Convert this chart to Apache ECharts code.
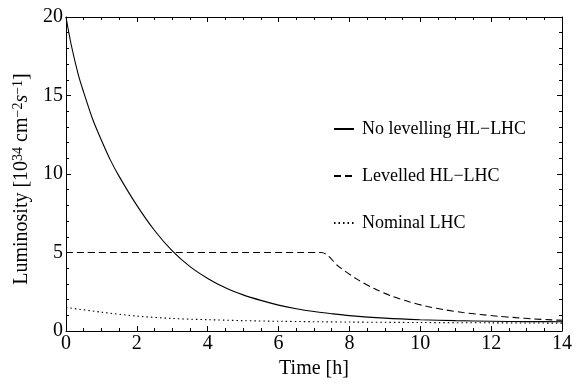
<!DOCTYPE html>
<html>
<head>
<meta charset="utf-8">
<script src="https://cdn.jsdelivr.net/npm/echarts@6/dist/echarts.min.js"></script>
<style>
  html, body { margin: 0; padding: 0; background: #fff; }
  #chart { width: 587px; height: 385px; }
</style>
</head>
<body>
<div id="chart"></div>
<script>
// values
const noLevTime = [0, 0.15, 0.35, 0.5, 0.75, 1, 1.25, 1.5, 2, 2.5, 3, 3.5, 4, 4.5, 5, 5.5, 6, 6.5, 7, 7.5, 8, 9, 10, 11, 12, 13, 14];
const noLevLumi = [20, 18.2, 16.3, 15.2, 13.5, 12.15, 10.9, 9.85, 8.0, 6.4, 5.1, 4.1, 3.35, 2.75, 2.3, 1.95, 1.65, 1.42, 1.24, 1.1, 0.98, 0.82, 0.72, 0.66, 0.62, 0.6, 0.59];

const levTime = [0, 7.2, 7.7, 8.2, 8.7, 9.2, 9.7, 10.2, 10.7, 11.2, 11.7, 12.2, 12.7, 13.2, 13.7, 14];
const levLumi = [5, 5, 4.1, 3.32, 2.7, 2.22, 1.85, 1.56, 1.35, 1.18, 1.05, 0.94, 0.85, 0.77, 0.71, 0.68];

const nomTime = [0, 1, 2, 3, 4, 5, 6, 8, 10, 12, 14];
const nomLumi = [1.5, 1.2, 0.95, 0.8, 0.72, 0.66, 0.62, 0.57, 0.54, 0.52, 0.5];

const seriesNames = ['No levelling HL\u2212LHC', 'Levelled HL\u2212LHC', 'Nominal LHC'];

const FONT = '"Liberation Serif", "DejaVu Serif", serif';
const pairs = (xs, ys) => xs.map((x, i) => [x, ys[i]]);

const axisLine = { onZero: false, lineStyle: { color: '#000', width: 1 } };
const axisTick = { inside: true, length: 5, lineStyle: { color: '#000' } };
const minorTick = (n) => ({ show: true, splitNumber: n, length: 3, lineStyle: { color: '#000' } });

const chart = echarts.init(document.getElementById('chart'), null, { renderer: 'canvas' });
chart.setOption({
  backgroundColor: '#fff',
  animation: false,
  grid: { left: 66, right: 25, top: 17, bottom: 54 },
  legend: {
    orient: 'vertical',
    left: 328, top: 115,
    itemWidth: 20, itemHeight: 10,
    itemGap: 29,
    itemStyle: { opacity: 0 },
    textStyle: { fontFamily: FONT, fontSize: 18, color: '#000', padding: [0, 0, 0, 3] },
    data: seriesNames,
  },
  xAxis: [{
    type: 'value', min: 0, max: 14, interval: 2,
    name: 'Time [h]', nameLocation: 'middle', nameGap: 28,
    nameTextStyle: { fontFamily: FONT, fontSize: 20, color: '#000' },
    axisLabel: { fontFamily: FONT, fontSize: 20, color: '#000', margin: 3 },
    axisLine, axisTick, minorTick: minorTick(4), splitLine: { show: false },
  }, {
    type: 'value', min: 0, max: 14, interval: 2, position: 'top',
    axisLabel: { show: false },
    axisLine, axisTick, minorTick: minorTick(4), splitLine: { show: false },
  }],
  yAxis: [{
    type: 'value', min: 0, max: 20, interval: 5,
    name: '{n|Luminosity [10}{s|34}{n| cm}{s|\u22122}{i|s}{s|\u22121}{n|]}',
    nameLocation: 'middle', nameGap: 24, nameRotate: 90,
    nameTextStyle: {
      fontFamily: FONT, fontSize: 20, color: '#000', padding: [0, 10, 0, 0],
      rich: {
        n: { fontFamily: FONT, fontSize: 20, color: '#000' },
        i: { fontFamily: FONT, fontSize: 20, color: '#000', fontStyle: 'italic' },
        s: { fontFamily: FONT, fontSize: 14, color: '#000', verticalAlign: 'top', padding: [0, 0, 8, 0] },
      },
    },
    axisLabel: { fontFamily: FONT, fontSize: 20, color: '#000', margin: 3 },
    axisLine, axisTick, minorTick: minorTick(5), splitLine: { show: false },
  }, {
    type: 'value', min: 0, max: 20, interval: 5, position: 'right',
    axisLabel: { show: false },
    axisLine, axisTick, minorTick: minorTick(5), splitLine: { show: false },
  }],
  series: [{
    name: seriesNames[0], type: 'line', data: pairs(noLevTime, noLevLumi),
    smooth: 0.3, symbol: 'none', color: '#000',
    lineStyle: { color: '#000', width: 1.1, type: 'solid' },
  }, {
    name: seriesNames[1], type: 'line', data: pairs(levTime, levLumi),
    smooth: 0.3, symbol: 'none', color: '#000',
    lineStyle: { color: '#000', width: 1.1, type: [7, 4] },
  }, {
    name: seriesNames[2], type: 'line', data: pairs(nomTime, nomLumi),
    smooth: 0.3, symbol: 'none', color: '#000',
    lineStyle: { color: '#000', width: 1.1, type: [1.5, 3] },
  }],
});
</script>
</body>
</html>
